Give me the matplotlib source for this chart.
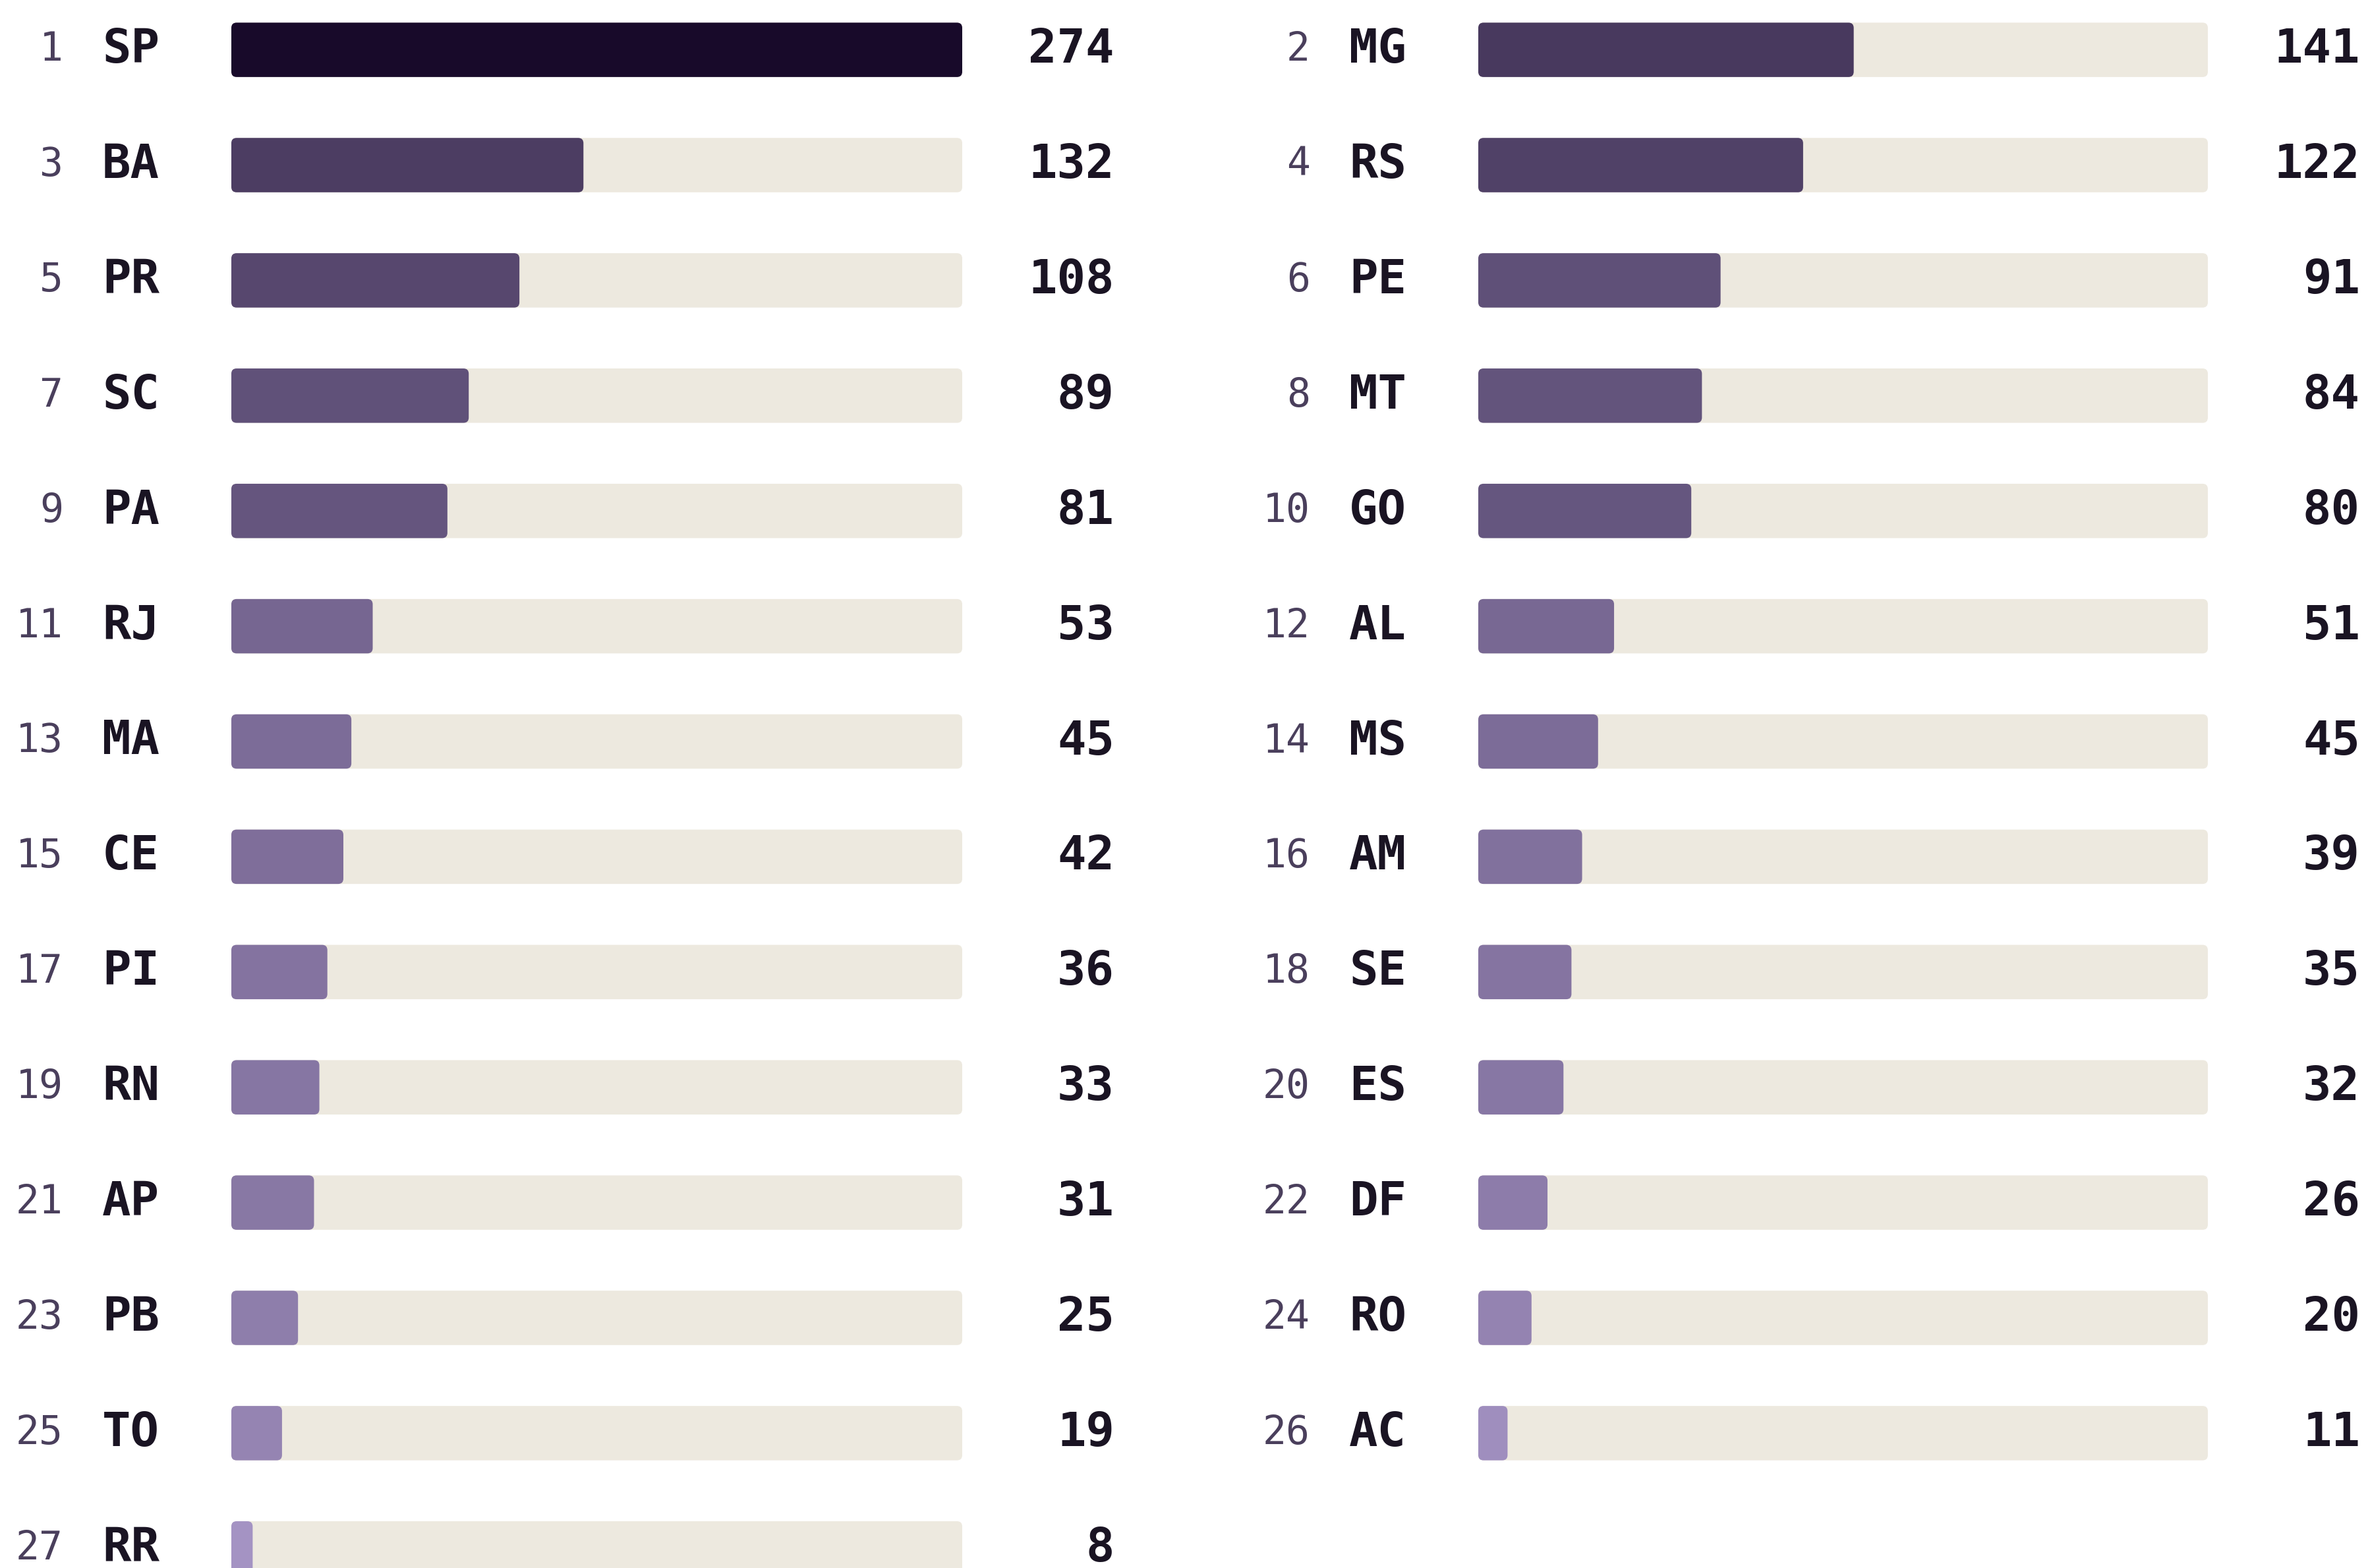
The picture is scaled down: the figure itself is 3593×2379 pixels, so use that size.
#!/usr/bin/env python3

import numpy as np
import matplotlib
matplotlib.use('Agg')
import matplotlib.pyplot as plt
from matplotlib.colors import LinearSegmentedColormap, FuncNorm
from matplotlib.patches import FancyBboxPatch

# states ranked by count (rank = position + 1)
states = ['SP', 'MG', 'BA', 'RS', 'PR', 'PE', 'SC', 'MT', 'PA', 'GO', 'RJ', 'AL', 'MA', 'MS',
          'CE', 'AM', 'PI', 'SE', 'RN', 'ES', 'AP', 'DF', 'PB', 'RO', 'TO', 'AC', 'RR']
counts = [274, 141, 132, 122, 108, 91, 89, 84, 81, 80, 53, 51, 45, 45,
          42, 39, 36, 35, 33, 32, 31, 26, 25, 20, 19, 11, 8]
ranks = list(range(1, len(states) + 1))

W, H, DPI = 3593, 2379, 100
ROW = 174.9        # px between rows
TOP = 75.6         # px from top to first row centre
BAR_H = 82.5 / ROW
RADIUS = 8         # px

TRACK = '#ede9df'
RANK_C = '#4a3f5c'
TEXT_C = '#1a1423'
cmap = LinearSegmentedColormap.from_list('purp', ['#a493c3', '#180a2a'])
norm = FuncNorm((np.sqrt, np.square), vmin=min(counts), vmax=max(counts))
vmax = max(counts)


def column(fig, x0, x1, idx):
	ax = fig.add_axes([x0 / W, 0, (x1 - x0) / W, 1])
	ax.set_xlim(0, vmax)
	ax.set_ylim((H - TOP) / ROW, -TOP / ROW)
	ax.axis('off')
	y = np.arange(len(idx))
	vals = [counts[i] for i in idx]

	px_x = (x1 - x0) / vmax
	r = RADIUS / px_x
	aspect = (RADIUS / ROW) / r

	bg = ax.barh(y, [vmax] * len(idx), height=BAR_H, color=TRACK)
	fg = ax.barh(y, vals, height=BAR_H, color=[cmap(norm(v)) for v in vals])
	for bars, z in ((bg, 1), (fg, 2)):
		for p in bars:
			fb = FancyBboxPatch((p.get_x(), p.get_y()), p.get_width(), p.get_height(),
								boxstyle='round,pad=0,rounding_size=%f' % r,
								mutation_aspect=aspect, fc=p.get_facecolor(),
								ec='none', zorder=z)
			ax.add_patch(fb)
			p.remove()

	for yy, i in zip(y, idx):
		ax.annotate(str(ranks[i]), (0, yy), xytext=(-255, 0), textcoords='offset pixels',
					ha='right', va='center', fontsize=43, color=RANK_C,
					family='DejaVu Sans Mono', annotation_clip=False)
		ax.annotate(states[i], (0, yy), xytext=(-196, 0), textcoords='offset pixels',
					ha='left', va='center', fontsize=52, color=TEXT_C, weight='bold',
					family='DejaVu Sans Mono', annotation_clip=False)
		ax.annotate(str(counts[i]), (vmax, yy), xytext=(231, 0), textcoords='offset pixels',
					ha='right', va='center', fontsize=52, color=TEXT_C, weight='bold',
					family='DejaVu Sans Mono', annotation_clip=False)


def main():
	fig = plt.figure(figsize=(W / DPI, H / DPI), dpi=DPI)
	fig.patch.set_facecolor('white')
	column(fig, 351, 1460, list(range(0, len(states), 2)))
	column(fig, 2243, 3350, list(range(1, len(states), 2)))
	fig.savefig('out.png', dpi=DPI)


if __name__ == '__main__':
	main()
